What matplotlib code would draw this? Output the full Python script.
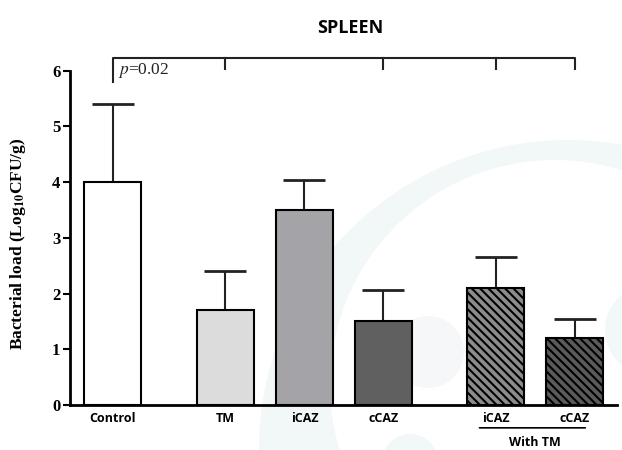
import matplotlib
matplotlib.use("Agg")
import matplotlib.pyplot as plt
from matplotlib.patches import Ellipse
import numpy as np

categories = ["Control", "TM", "iCAZ", "cCAZ", "iCAZ", "cCAZ"]
means = [4.0, 1.7, 3.5, 1.5, 2.1, 1.2]
errors = [1.4, 0.71, 0.54, 0.56, 0.55, 0.35]
yticks = [0, 1, 2, 3, 4, 5, 6]
p_text = "0.02"

positions = [0, 1.43, 2.43, 3.43, 4.85, 5.85]
colors = ["#ffffff", "#dcdcdc", "#a4a3a8", "#606060", "#8c8c8c", "#5a5a5a"]
hatches = [None, None, None, None, "\\\\\\\\", "\\\\\\\\"]

plt.rcParams["hatch.linewidth"] = 1.5
plt.rcParams["mathtext.fontset"] = "stix"
W, H = 622, 450
fig = plt.figure(figsize=(6.22, 4.5), dpi=100)

# faint background watermark (crescent + blobs)
def circ(cx, cy, r, color):
    return Ellipse((cx / W, 1 - cy / H), 2 * r / W, 2 * r / H, transform=fig.transFigure,
                   facecolor=color, edgecolor="none", zorder=-10)
wm = "#f2f7f8"
fig.patches.append(circ(568, 449, 309, wm))
fig.patches.append(circ(555, 385, 225, "white"))
fig.patches.append(circ(428, 352, 36, "#f6f7f8"))
fig.patches.append(circ(410, 462, 28, wm))
fig.patches.append(circ(650, 330, 45, wm))

ax = fig.add_axes([70/W, 1-405/H, (617-70)/W, (405-70.7)/H])
ax.patch.set_alpha(0)

bw = 0.72
for x, m, e, c, h in zip(positions, means, errors, colors, hatches):
    ax.bar(x, m, width=bw, color=c, edgecolor="black", linewidth=1.5, hatch=h, zorder=2)
    ax.errorbar(x, m, yerr=[[0], [e]], fmt="none", ecolor="#222222", elinewidth=1.5,
                capsize=15, capthick=2, zorder=1)

ax.set_xlim(-0.538, 6.386)
ax.set_ylim(0, 6)
ax.set_yticks(yticks)
ax.set_yticklabels([str(t) for t in yticks], fontfamily="Liberation Serif", fontweight="bold", fontsize=12)
ax.set_xticks(positions)
ax.set_xticklabels(categories, fontfamily="Open Sans", fontweight="bold", fontsize=9)
ax.tick_params(axis="x", length=0, pad=5)
ax.tick_params(axis="y", length=5, width=1.5, direction="out", pad=2)
for s in ["top", "right"]:
    ax.spines[s].set_visible(False)
for s in ["left", "bottom"]:
    ax.spines[s].set_linewidth(2)

fig.text(18/W, 1-244/H, "Bacterial load (Log$_{\\mathbf{10}}$CFU/g)", fontfamily="Liberation Serif",
         fontweight="bold", fontsize=12.5, rotation=90, ha="center", va="center")

# significance bracket
ytop = 6.22
ax.plot([positions[0], positions[0], positions[5], positions[5]], [5.79, ytop, ytop, 6.03],
        color="#222222", lw=1.5, clip_on=False)
for i in [1, 3, 4]:
    ax.plot([positions[i], positions[i]], [ytop, 6.03], color="#222222", lw=1.5, clip_on=False)
ax.text(positions[0] + 0.07, 6.01, "$p$=" + p_text, fontfamily="Liberation Serif", fontsize=12.5,
        ha="left", va="center", color="#222222")

# "With TM" group label
ax.annotate("", xy=(4.61, -0.41), xytext=(6.02, -0.41), xycoords="data",
            arrowprops=dict(arrowstyle="-", lw=1.2, color="black"), annotation_clip=False)
ax.text((positions[4] + positions[5]) / 2, -0.68, "With TM", fontfamily="Open Sans",
        fontweight="bold", fontsize=9, ha="center", va="center")

fig.text(350/W, 1-28/H, "SPLEEN", fontfamily="Open Sans", fontweight="bold", fontsize=13,
         ha="center", va="center")

fig.savefig("out.png", dpi=100)
